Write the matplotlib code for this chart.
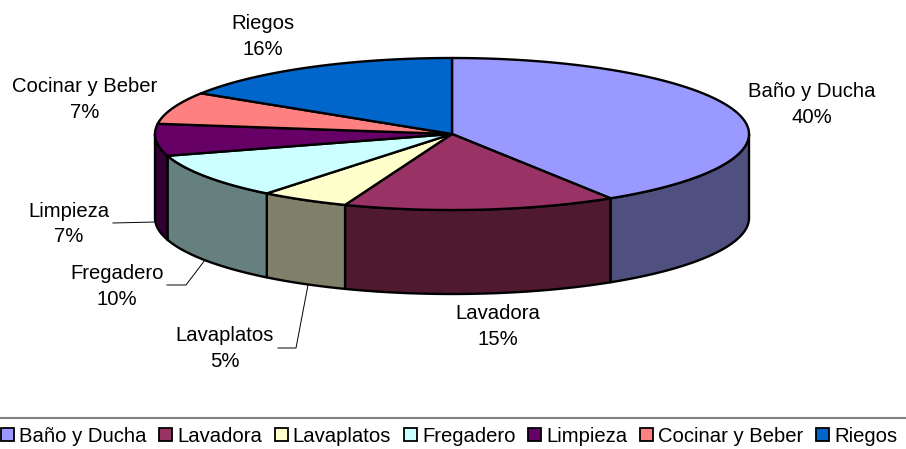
import numpy as np
import matplotlib
matplotlib.use('Agg')
import matplotlib.pyplot as plt
from matplotlib.patches import Patch, Polygon

plt.rcParams['font.family'] = ['Liberation Sans', 'DejaVu Sans']

categories = ['Baño y Ducha', 'Lavadora', 'Lavaplatos', 'Fregadero', 'Limpieza', 'Cocinar y Beber', 'Riegos']
values = [40, 15, 5, 10, 7, 7, 16]
colors = ['#9999FF', '#993366', '#FFFFCC', '#CCFFFF', '#660066', '#FF8080', '#0066CC']
side_colors = ['#4F4F80', '#4F1A30', '#80806A', '#668080', '#330033', '#804040', '#003366']

# label centre in pixels, per category
label_pos = [(812, 104.5), (498, 326.5), (224.5, 348.5), (117, 286.5), (68.5, 224), (85, 99.5), (263, 36.5)]

cx, cy = 452, 134
rx, ry = 297, 76
depth = 84

fig = plt.figure(figsize=(9.06, 4.49), dpi=100)
ax = fig.add_axes([0, 0, 1, 1])
ax.set_xlim(0, 906)
ax.set_ylim(449, 0)
ax.axis('off')


def warp(t):
    # small shift for the perspective of the 3d pie
    return t + np.radians(3.5) * (1 - np.cos(t)) / 2 + np.radians(1) * np.sin(t)


def rim(t, dy=0):
    t = warp(t)
    return np.c_[cx + rx * np.sin(t), cy - ry * np.cos(t) + dy]


edges = np.radians(np.cumsum([0] + values) / sum(values) * 360)

# walls first, only the front half can be seen
for i in range(len(values)):
    a = max(edges[i], np.radians(87.3))
    b = min(edges[i + 1], np.radians(269.3))
    if b <= a:
        continue
    t = np.linspace(a, b, 80)
    pts = np.vstack([rim(t), rim(t[::-1], depth)])
    ax.add_patch(Polygon(pts, closed=True, fc=side_colors[i], ec='black', lw=1.7, joinstyle='round', zorder=2))

for i in range(len(values)):
    t = np.linspace(edges[i], edges[i + 1], 120)
    pts = np.vstack([[cx, cy], rim(t)])
    ax.add_patch(Polygon(pts, closed=True, fc=colors[i], ec='black', lw=1.7, joinstyle='round', zorder=3))

for i, name in enumerate(categories):
    x, y = label_pos[i]
    ax.text(x, y, f'{name}\n{values[i]}%', ha='center', va='center', fontsize=14.6, linespacing=1.42, color='black')

# leader lines
ax.plot([113, 155], [223, 222], color='black', lw=0.7)
ax.plot([167, 186, 205], [285, 285, 260], color='black', lw=0.7)
ax.plot([278, 296, 308], [348, 348, 285], color='black', lw=0.7)

ax.plot([0, 906], [417.5, 417.5], color='#808080', lw=1.5)

handles = [Patch(fc=c, ec='black', lw=1.3) for c in colors]
fig.legend(handles, categories, ncol=7, loc='center', bbox_to_anchor=(449 / 906, 1 - 436 / 449), frameon=False,
           fontsize=14.6, handlelength=0.65, handleheight=0.65, handletextpad=0.25, columnspacing=0.62, borderpad=0)

fig.savefig('out.png', dpi=100)
